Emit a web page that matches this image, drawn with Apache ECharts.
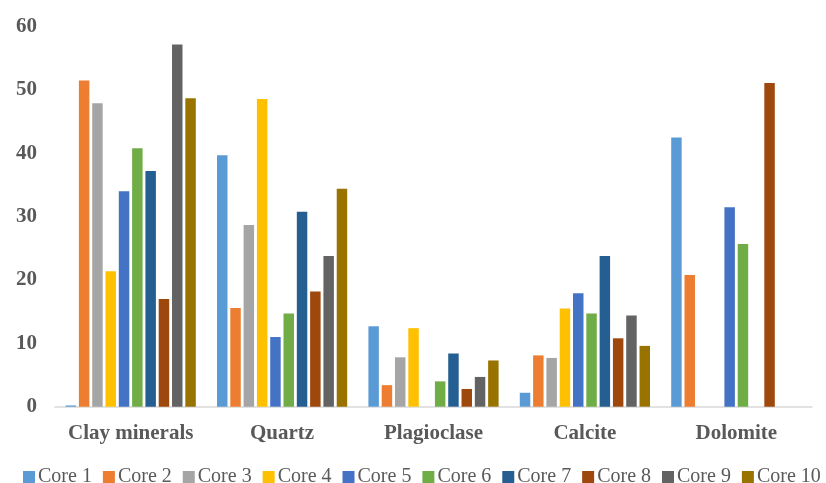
<!DOCTYPE html>
<html>
<head>
<meta charset="utf-8">
<script src="https://cdn.jsdelivr.net/npm/echarts@6/dist/echarts.min.js"></script>
<style>
  html, body { margin: 0; padding: 0; background: #fff; }
  #chart { width: 826px; height: 483px; }
</style>
</head>
<body>
<div id="chart"></div>
<script>
// Mineral composition (%) per core sample
const categories = ['Clay minerals', 'Quartz', 'Plagioclase', 'Calcite', 'Dolomite'];
const seriesNames = ['Core 1', 'Core 2', 'Core 3', 'Core 4', 'Core 5', 'Core 6', 'Core 7', 'Core 8', 'Core 9', 'Core 10'];

const core1  = [0.2, 39.7, 12.7, 2.2, 42.5];
const core2  = [51.5, 15.6, 3.4, 8.1, 20.8];
const core3  = [47.9, 28.7, 7.8, 7.7, 0];
const core4  = [21.4, 48.6, 12.4, 15.5, 0];
const core5  = [34.0, 11.0, 0, 17.9, 31.5];
const core6  = [40.8, 14.7, 4.0, 14.7, 25.7];
const core7  = [37.2, 30.8, 8.4, 23.8, 0];
const core8  = [17.0, 18.2, 2.8, 10.8, 51.1];
const core9  = [57.2, 23.8, 4.7, 14.4, 0];
const core10 = [48.7, 34.4, 7.3, 9.6, 0];

const yTicks = { min: 0, max: 60, interval: 10 };

const allValues = [core1, core2, core3, core4, core5, core6, core7, core8, core9, core10];
const colors = ['#5B9BD5', '#ED7D31', '#A5A5A5', '#FFC000', '#4472C4',
                '#70AD47', '#255E91', '#9E480E', '#636363', '#997300'];

const serif = '"Liberation Serif", "Times New Roman", serif';

const chart = echarts.init(document.getElementById('chart'), null, { renderer: 'canvas' });

chart.setOption({
  animation: false,
  color: colors,
  grid: { left: 55, right: 14, top: 26.7, bottom: 76.3, containLabel: false },
  legend: {
    data: seriesNames,
    left: 23,
    top: 467,
    width: 803,
    padding: 0,
    itemWidth: 12,
    itemHeight: 12,
    itemGap: 11,
    icon: 'rect',
    textStyle: { fontFamily: serif, fontSize: 20, color: '#595959', padding: [0, 0, 0, -2] }
  },
  xAxis: {
    type: 'category',
    data: categories,
    axisLine: { show: true, lineStyle: { color: '#D9D9D9', width: 1.5 } },
    axisTick: { show: false },
    axisLabel: {
      interval: 0,
      margin: 16,
      fontFamily: serif,
      fontWeight: 'bold',
      fontSize: 21,
      color: '#595959'
    }
  },
  yAxis: {
    type: 'value',
    min: yTicks.min,
    max: yTicks.max,
    interval: yTicks.interval,
    axisLine: { show: false },
    axisTick: { show: false },
    splitLine: { show: false },
    axisLabel: {
      margin: 18,
      fontFamily: serif,
      fontWeight: 'bold',
      fontSize: 21,
      color: '#595959'
    }
  },
  series: seriesNames.map((name, i) => ({
    name: name,
    type: 'bar',
    data: allValues[i],
    barGap: '27%',
    barCategoryGap: '14%',
    itemStyle: { color: colors[i] }
  }))
});
</script>
</body>
</html>
